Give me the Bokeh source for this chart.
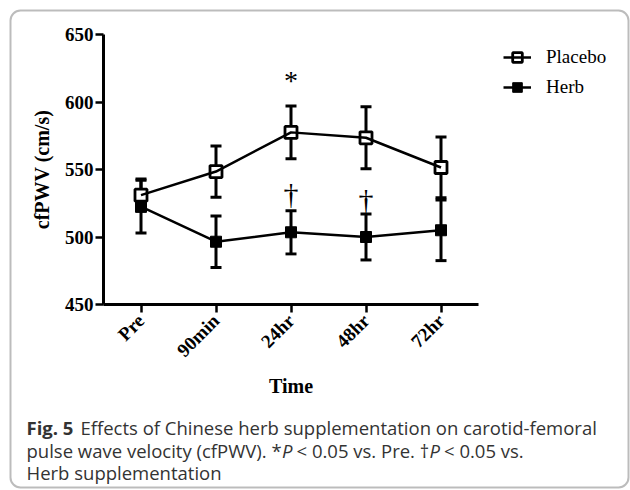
import math
from bokeh.plotting import figure
from bokeh.models import (Whisker, TeeHead, ColumnDataSource, Label, Legend, LegendItem,
                          BoxAnnotation, FixedTicker, LinearAxis, Range1d)
from bokeh.embed import file_html
from bokeh.resources import INLINE
from bokeh.core.properties import value

# ---------------- data ----------------
categories = ["Pre", "90min", "24hr", "48hr", "72hr"]
placebo_mean = [531.0, 548.5, 577.5, 573.5, 551.5]
placebo_err = [12.0, 19.0, 19.5, 23.0, 22.5]
herb_mean = [522.5, 496.5, 503.5, 500.0, 505.0]
herb_err = [19.5, 19.0, 16.0, 17.0, 22.5]
y_ticks = [450, 500, 550, 600, 650]
y_min, y_max = 450, 650
star_pos = [2]          # index into categories (24hr)
star_y = [616]
dagger_pos = [2, 3]     # 24hr, 48hr
dagger_y = [532, 528]

xs = list(range(len(categories)))

SERIF = "Liberation Serif"
CAP = "Open Sans"

# canvas geometry (pixels)
W, H = 630, 490
X0_PX, X_STEP = 140.5, 75.0      # pixel of first category, pixels per category
Y_BOT_PX, Y_TOP_PX = 304.0, 34.0  # pixels of y_min / y_max
y_scale = (Y_BOT_PX - Y_TOP_PX) / (y_max - y_min)

x_range = Range1d(-X0_PX / X_STEP, (W - X0_PX) / X_STEP)
y_range = Range1d(y_min - (H - Y_BOT_PX) / y_scale, y_max + Y_TOP_PX / y_scale)

p = figure(width=W, height=H, x_range=x_range, y_range=y_range,
           output_backend="svg", toolbar_location=None,
           x_axis_location=None, y_axis_location=None,
           min_border=0, min_border_left=0, min_border_right=0,
           min_border_top=0, min_border_bottom=0)
p.outline_line_color = None
p.grid.visible = False
p.background_fill_color = "white"
p.border_fill_color = "white"

xaxis = LinearAxis(fixed_location=y_min, bounds=(-0.5, len(categories) - 0.5))
yaxis = LinearAxis(fixed_location=-0.5, bounds=(y_min, y_max))
for ax in (xaxis, yaxis):
    ax.axis_line_width = 3
    ax.axis_line_color = "black"
    ax.major_tick_line_width = 2.5
    ax.major_tick_line_color = "black"
    ax.major_tick_out = 8
    ax.major_tick_in = 0
    ax.minor_tick_line_color = None
    ax.major_label_text_font = SERIF
    ax.major_label_text_font_style = "bold"
    ax.major_label_text_font_size = "19px"
    ax.major_label_text_color = "black"
    ax.axis_label_text_font = SERIF
    ax.axis_label_text_font_style = "bold"
    ax.axis_label_text_font_size = "20px"
    ax.axis_label_text_color = "black"

yaxis.ticker = FixedTicker(ticks=y_ticks)
yaxis.major_label_standoff = 2
yaxis.axis_label = "cfPWV (cm/s)"
yaxis.axis_label_standoff = 9
xaxis.ticker = FixedTicker(ticks=xs)
xaxis.major_label_overrides = {i: c for i, c in zip(xs, categories)}
xaxis.axis_label = "Time"
xaxis.major_label_orientation = math.pi / 4
xaxis.major_label_standoff = 5
xaxis.axis_label_standoff = 4
p.add_layout(yaxis, "left")
p.add_layout(xaxis, "below")

# error bars
src_p = ColumnDataSource(dict(x=xs,
                              upper=[m + e for m, e in zip(placebo_mean, placebo_err)],
                              lower=[m - e for m, e in zip(placebo_mean, placebo_err)]))
src_h = ColumnDataSource(dict(x=xs,
                              upper=[m + e for m, e in zip(herb_mean, herb_err)],
                              lower=[m - e for m, e in zip(herb_mean, herb_err)]))
for src in (src_h, src_p):
    w = Whisker(source=src, base="x", upper="upper", lower="lower",
                line_width=3, line_color="black",
                upper_head=TeeHead(size=11, line_width=3, line_color="black"),
                lower_head=TeeHead(size=11, line_width=3, line_color="black"))
    p.add_layout(w)

# series
h_line = p.line(xs, herb_mean, line_width=2.5, color="black")
h_sc = p.scatter(xs, herb_mean, marker="square", size=11,
                 fill_color="black", line_color="black", line_width=1)
p_sc = p.scatter(xs, placebo_mean, marker="square", size=12,
                 fill_color="white", line_color="black", line_width=2.8)
p_line = p.line(xs, placebo_mean, line_width=2.5, color="black")

# significance marks
p.text(star_pos, star_y, text=["*"], text_font=value(SERIF), text_font_size="28px",
       text_align="center", text_baseline="middle", text_color="black")
p.text(dagger_pos, dagger_y, text=["\u2020", "\u2020"], text_font=value(SERIF),
       text_font_size="30px", text_align="center", text_baseline="middle",
       text_color="black")

# legend
legend = Legend(items=[LegendItem(label="Placebo", renderers=[p_sc, p_line]),
                       LegendItem(label="Herb", renderers=[h_sc, h_line])],
                location=(503, 391), orientation="vertical",
                label_text_font=SERIF, label_text_font_size="19px",
                label_text_color="black",
                glyph_width=28, glyph_height=24, label_height=24, spacing=6,
                padding=0, margin=0, label_standoff=15,
                border_line_color=None, background_fill_alpha=0)
p.add_layout(legend)

# helpers: canvas pixels -> data coordinates (for decoration only)
def dx(cx):
    return (cx - X0_PX) / X_STEP

def dy(cy):
    return y_min + (Y_BOT_PX - cy) / y_scale

# outer rounded border
p.add_layout(BoxAnnotation(left=dx(10), right=dx(628), top=dy(10), bottom=dy(487),
                           fill_alpha=0, line_color="#222222", line_width=2,
                           border_radius=10))

# caption
cap_color = "#333333"
def cap(cx, cy, txt, style="normal"):
    p.add_layout(Label(x=dx(cx), y=dy(cy), text=txt, text_font=CAP,
                       text_font_size="18.5px", text_font_style=style,
                       text_color=cap_color, text_baseline="alphabetic",
                       text_align="left"))

cap(26, 427, "Fig. 5", "bold")
cap(80, 427, "Effects of Chinese herb supplementation on carotid-femoral")
cap(26, 450, "pulse wave velocity (cfPWV). *")
cap(281.5, 450, "P", "italic")
cap(296, 450, "< 0.05 vs. Pre. \u2020")
cap(429, 450, "P", "italic")
cap(443.5, 450, "< 0.05 vs.")
cap(26, 472, "Herb supplementation")

open("out.html", "w").write(file_html(p, INLINE))
